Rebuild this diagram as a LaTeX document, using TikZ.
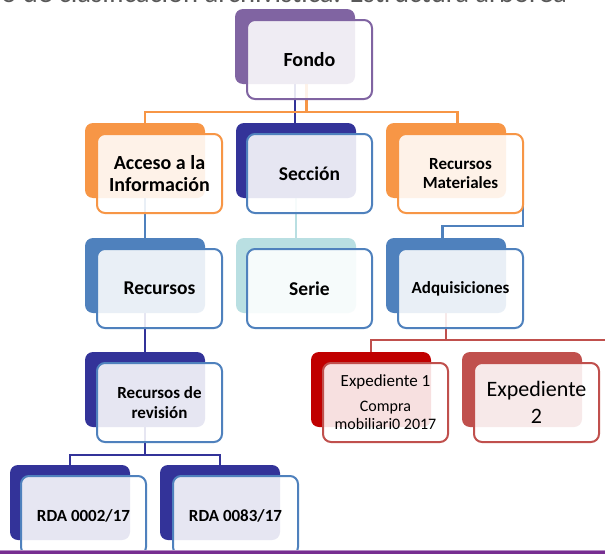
\documentclass[tikz,border=0pt]{standalone}
\usepackage{fontspec}
\setmainfont{Carlito}
\usetikzlibrary{calc,backgrounds}

\definecolor{fondoviolet}{HTML}{8064A2}
\definecolor{accorange}{HTML}{F79646}
\definecolor{navyblue}{HTML}{333399}
\definecolor{steelblue}{HTML}{4F81BD}
\definecolor{paleteal}{HTML}{B9DFE2}
\definecolor{deepred}{HTML}{C00000}
\definecolor{rosered}{HTML}{C0504D}
\definecolor{footviolet}{HTML}{772E91}
\definecolor{titlegray}{HTML}{595959}

\tikzset{
  backbox/.style={rectangle, rounded corners=8pt, minimum width=120pt,
    minimum height=75pt, anchor=north west, inner sep=0pt, outer sep=0pt,
    fill=#1},
  frontbox/.style={rectangle, rounded corners=8pt, minimum width=125pt,
    minimum height=79pt, anchor=north west, inner sep=0pt, outer sep=0pt,
    draw=#1, line width=2pt, fill=white, fill opacity=0.88, text opacity=1,
    align=center, text=black},
  link/.style={line width=2.2pt, draw=#1},
  bigbold/.style={font=\bfseries\fontsize{20}{22}\selectfont},
  midbold/.style={font=\bfseries\fontsize{19.5}{22}\selectfont},
  smallbold/.style={font=\bfseries\fontsize{17}{19.5}\selectfont},
}

\begin{document}
\begin{tikzpicture}[x=1pt, y=-1pt]
\useasboundingbox (0,0) rectangle (605,554);

% slide title, mostly above the visible area
\node[anchor=base east, inner sep=0pt, text=titlegray,
      font=\fontsize{28.6}{30}\selectfont] (title) at (567,2)
      {Cuadro de clasificación archivística: Estructura arbórea};

% level 0
\node[backbox=fondoviolet] (fondoB) at (235,9) {};
\node[frontbox=fondoviolet, bigbold] (fondo) at (247,20) {Fondo};

% level 1
\node[backbox=accorange] (accesoB) at (85,123) {};
\node[frontbox=accorange, bigbold] (acceso) at (97,134) {Acceso a la\\Información};
\node[backbox=navyblue] (seccionB) at (236,123) {};
\node[frontbox=steelblue, midbold] (seccion) at (247,134) {Sección};
\node[backbox=accorange] (recmatB) at (386,123) {};
\node[frontbox=accorange, smallbold] (recmat) at (398,134) {Recursos\\Materiales};

% level 2
\node[backbox=steelblue] (recursosB) at (85,238) {};
\node[frontbox=steelblue, midbold] (recursos) at (97,249) {Recursos};
\node[backbox=paleteal] (serieB) at (236,238) {};
\node[frontbox=steelblue, midbold] (serie) at (247,249) {Serie};
\node[backbox=steelblue] (adqB) at (386,238) {};
\node[frontbox=steelblue, smallbold] (adq) at (398,249) {Adquisiciones};

% level 3
\node[backbox=navyblue] (revB) at (85,352) {};
\node[frontbox=steelblue, smallbold] (rev) at (97,363) {Recursos de\\revisión};
\node[backbox=deepred] (exp1B) at (311,352) {};
\node[frontbox=rosered, font=\fontsize{16}{18}\selectfont] (exp1) at (323,363)
  {{\fontsize{17}{20}\selectfont Expediente 1}\\[7pt]Compra\\mobiliari0 2017};
\node[backbox=rosered] (exp2B) at (462,352) {};
\node[frontbox=rosered, font=\fontsize{22}{27}\selectfont] (exp2) at (474,363)
  {Expediente\\2};

% level 4
\node[backbox=navyblue] (rda1B) at (10,465) {};
\node[frontbox=steelblue, smallbold] (rda1) at (21,476) {RDA 0002/17};
\node[backbox=navyblue] (rda2B) at (160,465) {};
\node[frontbox=steelblue, smallbold] (rda2) at (173,476) {RDA 0083/17};

% bus levels and taps
\coordinate (orangebus) at (0,112);
\coordinate (fondoTap) at ($(fondoB.south)+(11.5,0)$);
\coordinate (recmatTap) at ($(recmatB.north)+(11.5,0)$);
\coordinate (adqTap) at ($(adqB.north)+(-3.5,0)$);
\coordinate (redbus) at (0,340);
\coordinate (rightedge) at (607,340);
\coordinate (navybus) at (0,455);

\begin{scope}[on background layer]
  \fill[white] (0,0) rectangle (605,554);
  \draw[link=navyblue] (fondoB.south) -- (fondoB.south |- seccionB.north);
  \draw[link=accorange] (fondoTap) -- (fondoTap |- orangebus);
  \draw[link=accorange] (accesoB.north) -- (accesoB.north |- orangebus)
        -| (recmatTap);
  \draw[link=steelblue] (accesoB.south) -- (recursosB.north);
  \draw[link=paleteal] (seccionB.south) -- (serieB.north);
  \draw[link=steelblue] (recmat.east |- recmatB.south) -- ++(0,28) -| (adqTap);
  \draw[link=navyblue] (recursosB.south) -- (revB.north);
  \draw[link=rosered] (adqB.south) -- (adqB.south |- redbus);
  \draw[link=rosered] (exp1B.north) |- (rightedge);
  \draw[link=navyblue] (revB.south) -- (revB.south |- navybus);
  \draw[link=navyblue] (rda1B.north) -- (rda1B.north |- navybus)
        -- (rda2B.north |- navybus) -- (rda2B.north);
\end{scope}

% footer rule
\fill[footviolet] (0,550.5) rectangle (605,554);
\fill[footviolet!55] (0,550) rectangle (605,551);
\end{tikzpicture}
\end{document}
